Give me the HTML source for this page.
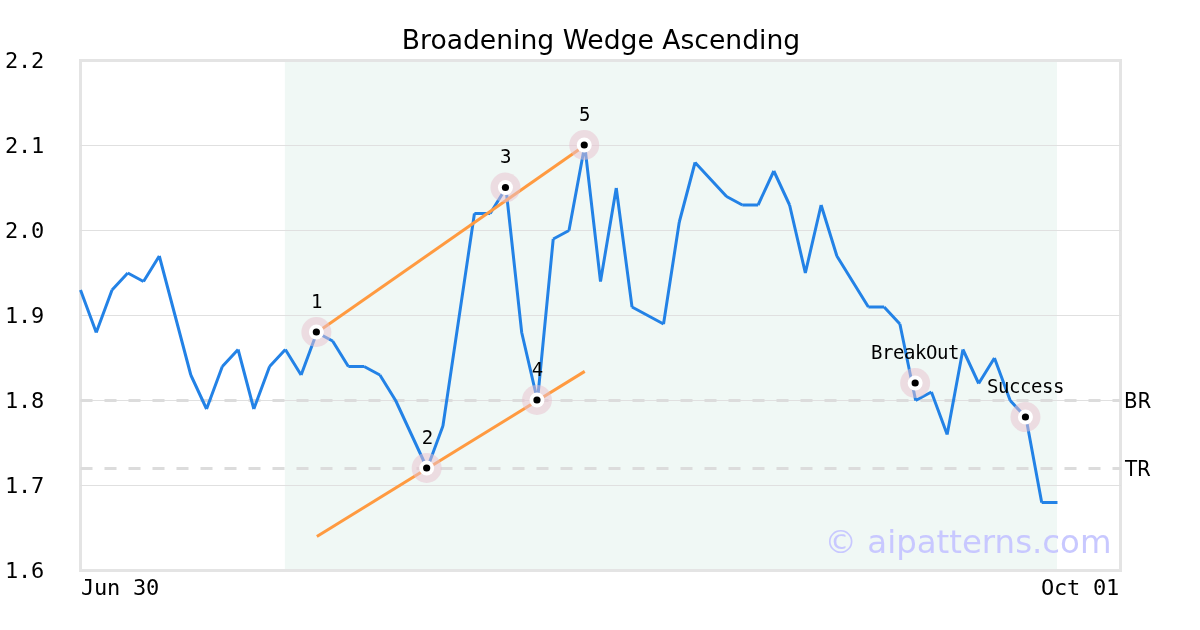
<!DOCTYPE html>
<html><head><meta charset="utf-8"><title>Broadening Wedge Ascending</title><style>
html,body{margin:0;padding:0;background:#fff;width:1200px;height:630px;overflow:hidden;}
svg{display:block;}
.mono{font-family:"DejaVu Sans Mono","Liberation Mono",monospace;}
.sans{font-family:"DejaVu Sans","Liberation Sans",sans-serif;}
.cond{font-family:"DejaVu Sans Condensed","DejaVu Sans","Liberation Sans",sans-serif;font-stretch:condensed;}
.halo{fill:#e8c2d0;fill-opacity:0.52;}
</style></head><body>
<svg width="1200" height="630" viewBox="0 0 1200 630">
<rect x="0" y="0" width="1200" height="630" fill="#fff"/>
<rect x="284.85" y="60" width="772.12" height="510" fill="#f0f8f5"/>
<g transform="translate(0.5 0.5)">
<rect x="80" y="60" width="1040" height="510" fill="none" stroke="#e4e4e4" stroke-width="3"/>
<g stroke="#e0e0e0" stroke-width="1"><line x1="79.5" x2="1120.5" y1="145" y2="145"/><line x1="79.5" x2="1120.5" y1="230" y2="230"/><line x1="79.5" x2="1120.5" y1="315" y2="315"/><line x1="79.5" x2="1120.5" y1="400" y2="400"/><line x1="79.5" x2="1120.5" y1="485" y2="485"/></g>
<g stroke="#dcdcdc" stroke-width="3" stroke-dasharray="12 12"><line x1="80" x2="1120" y1="400" y2="400"/><line x1="80" x2="1120" y1="468" y2="468"/></g>
</g>
<text x="1111.5" y="553" text-anchor="end" class="sans" font-size="32.4" fill="#c8c8ff">© aipatterns.com</text>
<g transform="translate(0.5 0.5)">
<path d="M80 289.5L95.76 332M95.76 332L111.52 289.5M111.52 289.5L127.27 272.5M127.27 272.5L143.03 281M143.03 281L158.79 255.5M158.79 255.5L174.55 315M174.55 315L190.3 374.5M190.3 374.5L206.06 408.5M206.06 408.5L221.82 366M221.82 366L237.58 349M237.58 349L253.33 408.5M253.33 408.5L269.09 366M269.09 366L284.85 349M284.85 349L300.61 374.5M300.61 374.5L316.36 332M316.36 332L332.12 340.5M332.12 340.5L347.88 366M347.88 366L363.64 366M363.64 366L379.39 374.5M379.39 374.5L395.15 400M395.15 400L410.91 434M410.91 434L426.67 468M426.67 468L442.42 425.5M442.42 425.5L458.18 319.25M458.18 319.25L473.94 213M473.94 213L489.7 213M489.7 213L505.45 187.5M505.45 187.5L521.21 332M521.21 332L536.97 400M536.97 400L552.73 238.5M552.73 238.5L568.48 230M568.48 230L584.24 145M584.24 145L600 281M600 281L615.76 187.5M615.76 187.5L631.52 306.5M631.52 306.5L647.27 315M647.27 315L663.03 323.5M663.03 323.5L678.79 221.5M678.79 221.5L694.55 162M694.55 162L710.3 179M710.3 179L726.06 196M726.06 196L741.82 204.5M741.82 204.5L757.58 204.5M757.58 204.5L773.33 170.5M773.33 170.5L789.09 204.5M789.09 204.5L804.85 272.5M804.85 272.5L820.61 204.5M820.61 204.5L836.36 255.5M836.36 255.5L852.12 281M852.12 281L867.88 306.5M867.88 306.5L883.64 306.5M883.64 306.5L899.39 323.5M899.39 323.5L915.15 400M915.15 400L930.91 391.5M930.91 391.5L946.67 434M946.67 434L962.42 349M962.42 349L978.18 383M978.18 383L993.94 357.5M993.94 357.5L1009.7 400M1009.7 400L1025.45 417M1025.45 417L1041.21 502M1041.21 502L1056.97 502" fill="none" stroke="#2382e6" stroke-width="3" stroke-linecap="butt"/>
<g stroke="#ff9a40" stroke-width="3"><line x1="316.36" y1="332" x2="584.24" y2="145"/><line x1="316.36" y1="536" x2="584.24" y2="370.86"/></g>
</g>
<circle cx="316.36" cy="332" r="15" class="halo"/><circle cx="316.36" cy="332" r="7.5" fill="#fff"/><circle cx="316.36" cy="332" r="3.6" fill="#000"/><circle cx="426.67" cy="468" r="15" class="halo"/><circle cx="426.67" cy="468" r="7.5" fill="#fff"/><circle cx="426.67" cy="468" r="3.6" fill="#000"/><circle cx="505.45" cy="187.5" r="15" class="halo"/><circle cx="505.45" cy="187.5" r="7.5" fill="#fff"/><circle cx="505.45" cy="187.5" r="3.6" fill="#000"/><circle cx="536.97" cy="400" r="15" class="halo"/><circle cx="536.97" cy="400" r="7.5" fill="#fff"/><circle cx="536.97" cy="400" r="3.6" fill="#000"/><circle cx="584.24" cy="145" r="15" class="halo"/><circle cx="584.24" cy="145" r="7.5" fill="#fff"/><circle cx="584.24" cy="145" r="3.6" fill="#000"/><circle cx="915.15" cy="383" r="15" class="halo"/><circle cx="915.15" cy="383" r="7.5" fill="#fff"/><circle cx="915.15" cy="383" r="3.6" fill="#000"/><circle cx="1025.45" cy="417" r="15" class="halo"/><circle cx="1025.45" cy="417" r="7.5" fill="#fff"/><circle cx="1025.45" cy="417" r="3.6" fill="#000"/>
<g class="mono" font-size="19" letter-spacing="-0.438" fill="#000"><text x="311" y="308">1</text><text x="421.8" y="444">2</text><text x="500" y="163">3</text><text x="531.8" y="376">4</text><text x="579" y="121">5</text><text x="871" y="359">BreakOut</text><text x="987" y="393">Success</text></g>
<g class="mono" font-size="22" letter-spacing="-0.245" fill="#000" text-anchor="end"><text x="44" y="67.5">2.2</text><text x="44" y="152.5">2.1</text><text x="44" y="237.5">2.0</text><text x="44" y="322.5">1.9</text><text x="44" y="407.5">1.8</text><text x="44" y="492.5">1.7</text><text x="44" y="577.5">1.6</text></g>
<g class="mono" font-size="22" letter-spacing="-0.245" fill="#000"><text x="81" y="595">Jun 30</text><text x="1119" y="595" text-anchor="end">Oct 01</text></g>
<g class="cond" font-size="22" fill="#000"><text x="1124" y="408">BR</text><text x="1125" y="476">TR</text></g>
<text x="601" y="49" text-anchor="middle" class="sans" font-size="26.6" fill="#000">Broadening Wedge Ascending</text>
</svg>
</body></html>
